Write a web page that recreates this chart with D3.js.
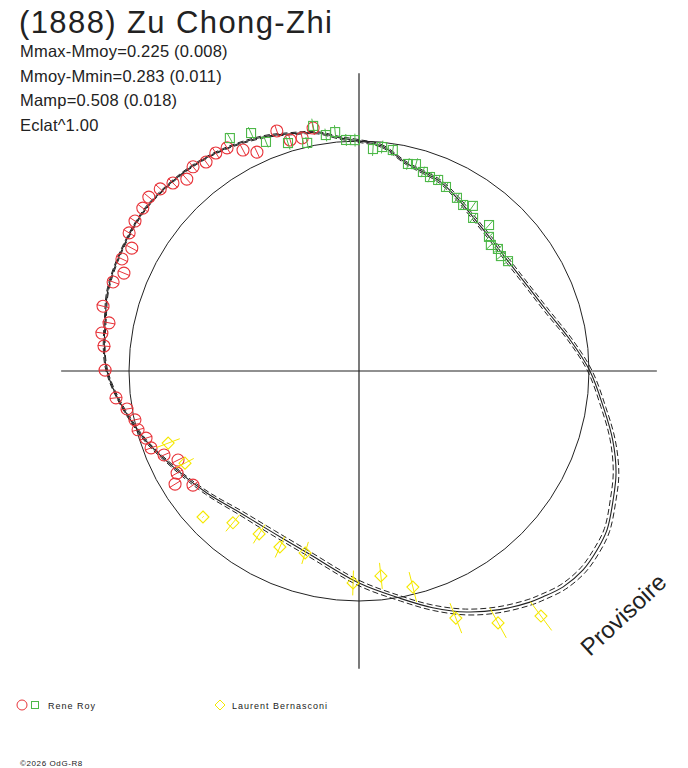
<!DOCTYPE html>
<html>
<head>
<meta charset="utf-8">
<script src="https://cdn.jsdelivr.net/npm/d3@7"></script>
<style>
  body { margin: 0; background: #fff; }
  svg { display: block; font-family: "Liberation Sans", Arial, sans-serif; }
</style>
</head>
<body>
<svg id="polar_plot" width="688" height="768"></svg>
<script>
// Title and statistics text
const title = '(1888) Zu Chong-Zhi';
const stats = ['Mmax-Mmoy=0.225 (0.008)', 'Mmoy-Mmin=0.283 (0.011)', 'Mamp=0.508 (0.018)', 'Eclat^1.00'];

// Fitted curve: angle (deg, clockwise from top), radius (1 = mean circle), envelope half width
const fitAngle = [0, 5.8, 13.0, 23.2, 29.5, 36.5, 44.6, 53.6, 63.0, 72.3, 81.5, 90, 98.4, 105.2, 111.6, 116.9, 122.7, 126.9, 131.6, 136.6, 140.8, 143.5, 149.5, 155.9, 162.7, 169.8, 180, 195.9, 208.0, 220.0, 231.3, 242.7, 254.2, 270, 282.9, 288.3, 297.1, 305.8, 310.7, 319.9, 328.4, 337.7, 343.8, 350.0, 355.3];
const fitRadius = [1.000, 0.983, 0.926, 0.896, 0.865, 0.833, 0.812, 0.805, 0.820, 0.858, 0.927, 1.004, 1.074, 1.143, 1.202, 1.239, 1.281, 1.295, 1.303, 1.292, 1.267, 1.250, 1.204, 1.148, 1.078, 1.004, 0.922, 0.822, 0.796, 0.804, 0.848, 0.909, 0.991, 1.096, 1.130, 1.148, 1.158, 1.166, 1.163, 1.150, 1.130, 1.100, 1.074, 1.052, 1.017];
const fitSpread = [0.006, 0.006, 0.006, 0.007, 0.008, 0.008, 0.008, 0.009, 0.009, 0.010, 0.010, 0.010, 0.011, 0.012, 0.013, 0.013, 0.013, 0.014, 0.014, 0.014, 0.014, 0.014, 0.014, 0.014, 0.013, 0.012, 0.012, 0.011, 0.011, 0.010, 0.008, 0.006, 0.005, 0.004, 0.004, 0.004, 0.004, 0.004, 0.004, 0.004, 0.004, 0.005, 0.005, 0.005, 0.006];

// Rene Roy, session 1 (red circles)
const royCircAngle = [341.1, 343.4, 346.3, 349.3, 335.0, 332.3, 329.4, 326.7, 323.8, 320.9, 318.1, 315.3, 312.5, 309.6, 307.0, 303.8, 301.0, 298.4, 295.3, 292.6, 289.9, 284.2, 280.9, 278.4, 275.6, 270.2, 263.7, 260.7, 257.7, 255.1, 252.5, 249.7, 246.7, 243.8, 240.7, 238.4, 235.5];
const royCircR = [1.103, 1.048, 1.043, 1.075, 1.050, 1.085, 1.127, 1.134, 1.126, 1.144, 1.121, 1.150, 1.172, 1.186, 1.177, 1.172, 1.166, 1.123, 1.140, 1.107, 1.137, 1.148, 1.107, 1.130, 1.114, 1.104, 1.063, 1.022, 0.997, 0.994, 0.971, 0.964, 0.923, 0.877, 0.907, 0.939, 0.876];
const royCircErr = [0.028, 0.028, 0.027, 0.030, 0.028, 0.027, 0.028, 0.028, 0.027, 0.028, 0.028, 0.027, 0.028, 0.028, 0.027, 0.028, 0.028, 0.027, 0.028, 0.028, 0.027, 0.028, 0.028, 0.027, 0.028, 0.028, 0.027, 0.028, 0.027, 0.028, 0.028, 0.027, 0.028, 0.028, 0.027, 0.028, 0.027];

// Rene Roy, session 2 (green squares)
const royBoxAngle = [331.0, 335.6, 337.9, 342.7, 347.2, 349.4, 352.0, 354.3, 356.8, 359.0, 3.6, 5.9, 8.7, 13.3, 15.4, 17.8, 20.1, 22.5, 25.3, 29.5, 32.1, 34.6, 36.7, 41.7, 44.1, 46.3, 48.7, 51.0, 53.6];
const royBoxR = [1.158, 1.136, 1.075, 1.038, 1.017, 1.084, 1.036, 1.044, 1.006, 1.004, 0.967, 0.979, 0.972, 0.925, 0.933, 0.909, 0.898, 0.899, 0.885, 0.865, 0.852, 0.872, 0.830, 0.850, 0.812, 0.793, 0.804, 0.794, 0.805];
const royBoxErr = [0.026, 0.028, 0.026, 0.030, 0.026, 0.032, 0.028, 0.030, 0.026, 0.028, 0.030, 0.028, 0.026, 0.026, 0.026, 0.024, 0.024, 0.024, 0.024, 0.024, 0.024, 0.024, 0.024, 0.024, 0.024, 0.024, 0.024, 0.024, 0.024];

// Laurent Bernasconi (yellow diamonds)
const bernAngle = [249.3, 242.1, 226.9, 219.7, 211.5, 204.2, 196.5, 181.6, 173.9, 166.0, 158.6, 151.1, 143.4];
const bernR = [0.887, 0.856, 0.929, 0.858, 0.831, 0.839, 0.825, 0.922, 0.896, 0.968, 1.154, 1.251, 1.327];
const bernErr = [0.054, 0.043, 0.004, 0.048, 0.048, 0.050, 0.050, 0.054, 0.057, 0.067, 0.070, 0.074, 0.078];

// Legend entries
const observers = ['Rene Roy', 'Laurent Bernasconi'];

const colRed = '#e8343a';
const colGreen = '#4db848';
const colYellow = '#f5e800';
const ink = '#222';

const svg = d3.select('#polar_plot');
const cx = 359, cy = 371;
const rScale = d3.scaleLinear().domain([0, 1]).range([0, 230]);
const rad = a => a * Math.PI / 180;

const g = svg.append('g').attr('transform', `translate(${cx},${cy})`);

// Axes through the centre
const axisExtent = 1.295;
g.append('line')
    .attr('x1', -rScale(axisExtent)).attr('x2', rScale(axisExtent))
    .attr('y1', 0).attr('y2', 0)
    .attr('stroke', ink).attr('stroke-width', 1.2);
g.append('line')
    .attr('x1', 0).attr('x2', 0)
    .attr('y1', -rScale(axisExtent)).attr('y2', rScale(axisExtent))
    .attr('stroke', ink).attr('stroke-width', 1.2);

// Mean circle
g.append('circle')
    .attr('r', rScale(1))
    .attr('fill', 'none').attr('stroke', ink).attr('stroke-width', 1);

// Fitted curve and its envelope
const fitData = fitAngle.map((a, i) => ({ a: rad(a), r: fitRadius[i], s: fitSpread[i] }));
const radialLine = k => d3.lineRadial()
    .angle(d => d.a)
    .radius(d => rScale(d.r + k * d.s))
    .curve(d3.curveCatmullRomClosed.alpha(0.5));

[-1, 1].forEach(k => {
    g.append('path')
        .attr('d', radialLine(k)(fitData))
        .attr('fill', 'none').attr('stroke', ink).attr('stroke-width', 1)
        .attr('stroke-dasharray', '6,3');
});
g.append('path')
    .attr('d', radialLine(0)(fitData))
    .attr('fill', 'none').attr('stroke', ink).attr('stroke-width', 1.1);

// Points with radial error bars
const drawSet = (angles, radii, errs, color, shape) => {
    const pts = angles.map((a, i) => ({ a: rad(a), r: radii[i], e: errs[i] }));
    const grp = g.append('g');
    pts.forEach(d => {
        const [x, y] = d3.pointRadial(d.a, rScale(d.r));
        const [x1, y1] = d3.pointRadial(d.a, rScale(d.r - d.e));
        const [x2, y2] = d3.pointRadial(d.a, rScale(d.r + d.e));
        grp.append('line')
            .attr('x1', x1).attr('y1', y1).attr('x2', x2).attr('y2', y2)
            .attr('stroke', color).attr('stroke-width', 1);
        if (shape === 'circle') {
            grp.append('circle').attr('cx', x).attr('cy', y).attr('r', 6)
                .attr('fill', 'none').attr('stroke', color).attr('stroke-width', 1.1);
        } else if (shape === 'square') {
            grp.append('rect').attr('x', x - 4.5).attr('y', y - 4.5)
                .attr('width', 9).attr('height', 9)
                .attr('fill', 'none').attr('stroke', color).attr('stroke-width', 1.1);
        } else {
            grp.append('path')
                .attr('d', `M${x},${y - 6}L${x + 6},${y}L${x},${y + 6}L${x - 6},${y}Z`)
                .attr('fill', 'none').attr('stroke', color).attr('stroke-width', 1.1);
        }
    });
};

drawSet(royCircAngle, royCircR, royCircErr, colRed, 'circle');
drawSet(royBoxAngle, royBoxR, royBoxErr, colGreen, 'square');
drawSet(bernAngle, bernR, bernErr, colYellow, 'diamond');

// Title and statistics
svg.append('text')
    .attr('x', 19).attr('y', 33)
    .attr('font-size', 31).attr('letter-spacing', 1.4).attr('fill', ink)
    .text(title);

svg.selectAll('.stat')
    .data(stats)
    .enter().append('text')
    .attr('class', 'stat')
    .attr('x', 20).attr('y', (d, i) => 57 + i * 24.5)
    .attr('font-size', 16.5).attr('letter-spacing', 0.2).attr('fill', ink)
    .text(d => d);

// Watermark
svg.append('text')
    .attr('transform', 'translate(590,657) rotate(-43)')
    .attr('font-size', 24).attr('fill', ink)
    .text('Provisoire');

// Legend
const leg = svg.append('g');
leg.append('circle').attr('cx', 22).attr('cy', 705).attr('r', 5)
    .attr('fill', 'none').attr('stroke', colRed).attr('stroke-width', 1);
leg.append('rect').attr('x', 31.5).attr('y', 701.5).attr('width', 7).attr('height', 7)
    .attr('fill', 'none').attr('stroke', colGreen).attr('stroke-width', 1);
leg.append('path').attr('d', 'M220,700L225,705L220,710L215,705Z')
    .attr('fill', 'none').attr('stroke', colYellow).attr('stroke-width', 1);
leg.selectAll('.legtext')
    .data(observers)
    .enter().append('text')
    .attr('class', 'legtext')
    .attr('x', (d, i) => i === 0 ? 48 : 232).attr('y', 709)
    .attr('font-size', 9).attr('letter-spacing', 1).attr('fill', ink)
    .text(d => d);

// Copyright
svg.append('text')
    .attr('x', 20).attr('y', 766)
    .attr('font-size', 8).attr('letter-spacing', 0.6).attr('fill', ink)
    .text('\u00a92026 OdG-R8');
</script>
</body>
</html>
